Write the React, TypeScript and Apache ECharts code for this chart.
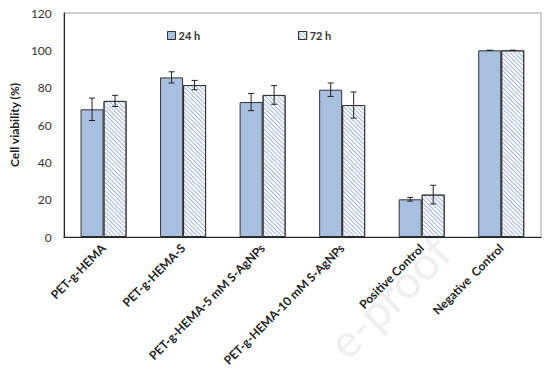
import React, { useEffect, useRef } from "react";
import * as echarts from "echarts";

const categories = [
  "PET-g-HEMA",
  "PET-g-HEMA-S",
  "PET-g-HEMA-5 mM S-AgNPs",
  "PET-g-HEMA-10 mM S-AgNPs",
  "Positive Control",
  "Negative  Control",
];
const viability24 = [68.4, 85.5, 72.3, 78.9, 20.2, 100];
const viability72 = [72.9, 81.4, 76.1, 70.7, 22.7, 100];
const err24 = [6, 3, 4.6, 3.6, 1, 0];
const err72 = [3, 2.5, 5, 7, 5, 0];
const yTicks = { min: 0, max: 120, interval: 20 };

const BAR_W = 23;

function errorSeries(values: number[], errs: number[], offset: number) {
  return {
    type: "custom",
    silent: true,
    z: 10,
    data: values.map((v, i) => [i, v, errs[i]]),
    renderItem: (_params: any, api: any) => {
      const i = api.value(0);
      const v = api.value(1);
      const e = api.value(2);
      const hi = api.coord([i, v + e]);
      const lo = api.coord([i, v - e]);
      const x = hi[0] + offset;
      const cap = 3;
      const style = { stroke: "#222", lineWidth: 1 };
      return {
        type: "group",
        children: [
          { type: "line", shape: { x1: x, y1: hi[1], x2: x, y2: lo[1] }, style },
          { type: "line", shape: { x1: x - cap, y1: hi[1], x2: x + cap, y2: hi[1] }, style },
          { type: "line", shape: { x1: x - cap, y1: lo[1], x2: x + cap, y2: lo[1] }, style },
        ],
      };
    },
  };
}

export default function App() {
  const ref = useRef<HTMLDivElement>(null);
  useEffect(() => {
    document.body.style.margin = "0";
    const chart = echarts.init(ref.current!, null, { renderer: "svg" });
    const font = "Lato, 'Open Sans', sans-serif";
    chart.setOption({
      animation: false,
      backgroundColor: "#fff",
      textStyle: { fontFamily: font },
      grid: {
        left: 60,
        right: 13,
        top: 13,
        bottom: 135,
        show: true,
        borderColor: "#a0a0a0",
        borderWidth: 1,
      },
      legend: {
        left: 162,
        top: 25,
        itemGap: 98,
        itemWidth: 8,
        itemHeight: 8,
        itemStyle: { borderWidth: 1 },
        icon: "rect",
        textStyle: { fontFamily: font, fontSize: 11, fontWeight: "bold", color: "#333", padding: [0, 0, 0, -2] },
        data: ["24 h", "72 h"],
      },
      xAxis: {
        type: "category",
        data: categories,
        axisLine: { lineStyle: { color: "#222" } },
        axisTick: { show: false },
        axisLabel: {
          rotate: 45,
          interval: 0,
          margin: 9,
          fontFamily: font,
          fontSize: 12,
          fontWeight: "bold",
          color: "#222",
        },
      },
      yAxis: {
        type: "value",
        min: yTicks.min,
        max: yTicks.max,
        interval: yTicks.interval,
        name: "Cell viability (%)",
        nameLocation: "middle",
        nameGap: 37,
        nameTextStyle: { fontFamily: font, fontSize: 12, fontWeight: "bold", color: "#222" },
        axisLine: { show: true, lineStyle: { color: "#222" } },
        axisTick: { show: false },
        splitLine: { show: false },
        axisLabel: { margin: 12, fontFamily: font, fontSize: 12, color: "#333" },
      },
      graphic: [
        {
          type: "text",
          x: 352,
          y: 366,
          rotation: Math.PI / 4,
          silent: true,
          z: -1,
          style: {
            text: "e-proof",
            fontSize: 46,
            fontFamily: font,
            fill: "#efefef",
            textAlign: "left",
            textVerticalAlign: "bottom",
          },
        },
      ],
      series: [
        {
          name: "24 h",
          type: "bar",
          data: viability24,
          barWidth: BAR_W,
          barGap: "0%",
          itemStyle: { color: "#a8bfe0", borderColor: "#333", borderWidth: 1 },
        },
        {
          name: "72 h",
          type: "bar",
          data: viability72,
          barWidth: BAR_W,
          barGap: "0%",
          itemStyle: {
            color: "#ffffff",
            borderColor: "#333",
            borderWidth: 1,
            decal: {
              symbol: "rect",
              color: "#9db5dc",
              dashArrayX: [[1, 0]],
              dashArrayY: [1, 1.5],
              rotation: Math.PI / 4,
            },
          },
        },
        errorSeries(viability24, err24, -BAR_W / 2),
        errorSeries(viability72, err72, BAR_W / 2),
      ],
    });
    return () => chart.dispose();
  }, []);
  return <div ref={ref} style={{ position: "absolute", left: 0, top: 0, width: 554, height: 372 }} />;
}
